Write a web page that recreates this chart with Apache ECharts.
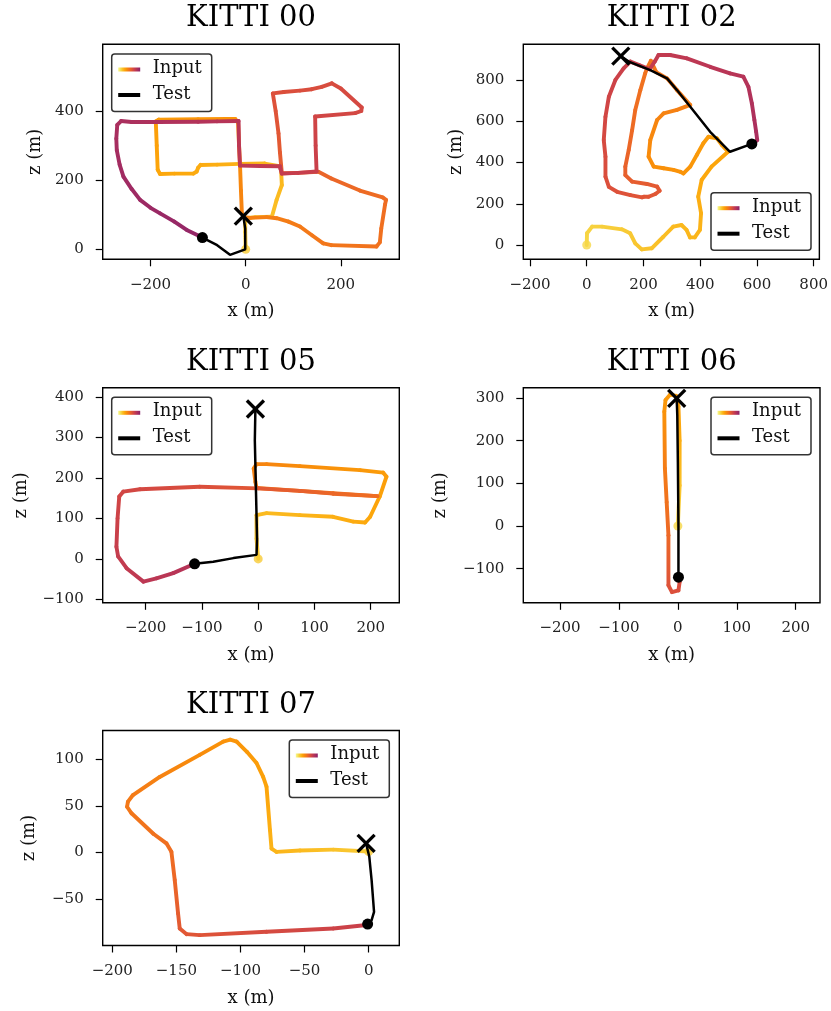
<!DOCTYPE html>
<html><head><meta charset="utf-8">
<script src="https://cdn.jsdelivr.net/npm/echarts@6/dist/echarts.min.js"></script>
<style>html,body{margin:0;padding:0;background:#fff}#c{width:831px;height:1011px}</style>
</head><body><div id="c"></div>
<script>
// ---------------- DATA ----------------
const titles = ['KITTI 00', 'KITTI 02', 'KITTI 05', 'KITTI 06', 'KITTI 07'];

const input00X = [0, -1, -1, 20, 55, 65, 76, 74, 40, -12, -60, -95, -100, -103, -110, -150, -180, -185, -187, -189, -183, -100, -40, -22, -16, -14, -12, -10, -8, -3, 10, 44, 65, 90, 114, 140, 163, 180, 275, 282, 285, 293, 295, 288, 240, 180, 153, 110, 76, 72, 69, 63, 57, 80, 114, 139, 160, 181, 200, 244, 243, 230, 146, 147, 149, 110, 76, 73, 72, 30, -12, -14, -15, -60, -100, -187, -240, -262, -270, -272, -271, -265, -257, -240, -222, -200, -180, -150, -124, -91];
const input00Z = [0, 50, 90, 93, 94, 143, 186, 240, 248, 247, 245, 244, 236, 225, 219, 219, 218, 230, 300, 370, 375, 376, 377, 377, 366, 300, 246, 170, 104, 93, 91, 93, 90, 80, 66, 40, 17, 12, 8, 20, 60, 130, 143, 150, 170, 205, 224, 221, 220, 280, 335, 400, 451, 455, 459, 463, 470, 480, 465, 410, 400, 394, 384, 300, 225, 221, 219, 233, 240, 241, 242, 300, 371, 370, 369, 368, 368, 371, 360, 320, 287, 245, 210, 175, 143, 120, 104, 80, 56, 34];
const test00X = [-91, -60, -33, -1, -1, -5];
const test00Z = [34, 12, -16, 0, 60, 96];

const input02X = [0, 1, 19, 54, 124, 153, 171, 194, 229, 270, 305, 334, 352, 364, 381, 399, 403, 393, 405, 440, 498, 476, 459, 429, 411, 388, 365, 341, 330, 306, 271, 236, 218, 224, 248, 271, 318, 365, 318, 283, 245, 226, 212, 206, 189, 171, 160, 148, 136, 136, 160, 212, 248, 257, 242, 218, 201, 195, 154, 107, 78, 66, 66, 60, 66, 78, 101, 130, 154, 185, 222, 240, 253, 294, 353, 435, 505, 552, 570, 582, 591, 597, 601, 587];
const input02Z = [0, 57, 89, 89, 76, 57, 8, -21, -16, 40, 89, 97, 73, 37, 37, 73, 154, 234, 315, 380, 452, 485, 517, 525, 493, 436, 380, 347, 355, 364, 372, 380, 428, 509, 606, 638, 655, 679, 751, 808, 838, 893, 855, 832, 751, 654, 557, 461, 380, 339, 307, 296, 283, 263, 247, 234, 234, 231, 242, 258, 282, 331, 428, 509, 622, 719, 800, 856, 889, 872, 852, 890, 921, 921, 905, 864, 832, 816, 767, 687, 606, 550, 509, 490];
const test02X = [582, 505, 435, 365, 318, 283, 224, 148, 120];
const test02Z = [490, 452, 549, 670, 751, 808, 848, 889, 916];

const input05X = [0, -3, -3, 15, 74, 133, 169, 190, 199, 216, 228, 222, 181, 74, 15, -3, -8, -5, -3, 74, 133, 212, 133, 74, 0, -104, -210, -240, -247, -250, -252, -249, -234, -204, -181, -151, -113];
const input05Z = [0, 50, 108, 113, 108, 104, 92, 90, 104, 154, 203, 213, 219, 229, 234, 234, 223, 190, 175, 168, 162, 155, 161, 168, 174, 178, 172, 166, 154, 100, 30, 6, -23, -56, -48, -35, -12];
const test05X = [-113, -80, -44, -3, -2, -4, -6, -5];
const test05Z = [-12, -7, 2, 10, 47, 170, 293, 370];

const input06X = [0, 3, 3, 1, -3, -13, -21, -23, -22, -19, -16, -16, -10, 1, 3, 1];
const input06Z = [0, 95, 200, 280, 305, 308, 295, 268, 135, 56, -22, -139, -155, -151, -131, -120];
const test06X = [1, 1, 0, -1, -2];
const test06Z = [-120, 0, 150, 260, 299];

const input07X = [0, -27.6, -53.6, -71.9, -75.8, -77, -79.7, -82.3, -87.5, -95, -103, -108, -113.5, -131.8, -163, -183.9, -187.8, -188.5, -185, -168, -157.8, -153.9, -151.3, -148.7, -147.4, -142, -131.8, -79.7, -27.6, -1.6, -0.8];
const input07Z = [1, 3, 2, 0.5, 4, 24, 70.6, 81, 96, 108, 119, 121, 119, 104.7, 81, 61.6, 54.5, 49, 42, 20, 9.7, 0.7, -29.7, -65.6, -81.7, -87.8, -88.9, -85.3, -81.7, -78, -77];
const test07X = [-0.8, 2.3, 4.2, 2.3, 0.5, -2];
const test07Z = [-77, -72.8, -63.8, -29.7, -4.7, 9.7];

const ticks00X = [-200, 0, 200], ticks00Z = [0, 200, 400];
const ticks02X = [-200, 0, 200, 400, 600, 800], ticks02Z = [0, 200, 400, 600, 800];
const ticks05X = [-200, -100, 0, 100, 200], ticks05Z = [-100, 0, 100, 200, 300, 400];
const ticks06X = [-200, -100, 0, 100, 200], ticks06Z = [-100, 0, 100, 200, 300];
const ticks07X = [-200, -150, -100, -50, 0], ticks07Z = [-50, 0, 50, 100];

const legendLabels = ['Input', 'Test'];
const xName = 'x (m)', zName = 'z (m)';

// ---------------- STYLE / LAYOUT ----------------
const FONT = 'DejaVu Serif';
const INFERNO = [[0.30,'#6a176e'],[0.35,'#781c6d'],[0.40,'#932667'],[0.45,'#a82e5f'],[0.50,'#bc3754'],[0.55,'#cf4446'],[0.60,'#dd513a'],[0.65,'#ed6925'],[0.70,'#f37819'],[0.75,'#f98e09'],[0.80,'#fca50a'],[0.85,'#fbba1f'],[0.90,'#f6d746'],[0.95,'#f1ed71'],[1.00,'#fcffa4']];
function hex(c){return [parseInt(c.substr(1,2),16),parseInt(c.substr(3,2),16),parseInt(c.substr(5,2),16)];}
function cmap(v){
  v = Math.max(INFERNO[0][0], Math.min(1, v));
  for (let i = 0; i < INFERNO.length - 1; i++) {
    const a = INFERNO[i], b = INFERNO[i+1];
    if (v <= b[0]) {
      const f = (v - a[0]) / (b[0] - a[0]);
      const ca = hex(a[1]), cb = hex(b[1]);
      return 'rgb(' + ca.map((q,k)=>Math.round(q + (cb[k]-q)*f)).join(',') + ')';
    }
  }
  return INFERNO[INFERNO.length-1][1];
}

const panels = [
  {ix:input00X, iz:input00Z, tx:test00X, tz:test00Z, xt:ticks00X, yt:ticks00Z,
   grid:{left:102.7, top:44.3, width:296.6, height:215}, xr:[-300.6, 322.9], yr:[-28.9, 592.9], cm:[0.88, 0.4], leg:[111.7, 54], zlab:35},
  {ix:input02X, iz:input02Z, tx:test02X, tz:test02Z, xt:ticks02X, yt:ticks02Z,
   grid:{left:523.3, top:44.3, width:296.7, height:215}, xr:[-223.6, 820], yr:[-69.3, 973], cm:[0.9, 0.45], leg:[711, 192.7], zlab:456},
  {ix:input05X, iz:input05Z, tx:test05X, tz:test05Z, xt:ticks05X, yt:ticks05Z,
   grid:{left:102.7, top:387.8, width:296.6, height:215}, xr:[-276.4, 250.8], yr:[-108.3, 422.3], cm:[0.88, 0.48], leg:[111.7, 397.3], zlab:21.5},
  {ix:input06X, iz:input06Z, tx:test06X, tz:test06Z, xt:ticks06X, yt:ticks06Z,
   grid:{left:523.3, top:387.8, width:296.7, height:215}, xr:[-262.3, 241.2], yr:[-180, 323.8], cm:[0.9, 0.58], leg:[711, 397.3], zlab:440},
  {ix:input07X, iz:input07Z, tx:test07X, tz:test07Z, xt:ticks07X, yt:ticks07Z,
   grid:{left:102.7, top:730.5, width:296.6, height:215}, xr:[-207.5, 23.9], yr:[-100, 130.9], cm:[0.88, 0.53], leg:[289.3, 740], zlab:29}
];

function fmt(v){ return v < 0 ? '\u2212' + Math.abs(v) : String(v); }

function renderSeg(params, api){
  const p1 = api.coord([api.value(0), api.value(1)]);
  const p2 = api.coord([api.value(2), api.value(3)]);
  const c1 = cmap(api.value(4)), c2 = cmap(api.value(5));
  let stroke = c1;
  if (Math.abs(p1[0]-p2[0]) + Math.abs(p1[1]-p2[1]) > 0.01) {
    stroke = new echarts.graphic.LinearGradient(p1[0], p1[1], p2[0], p2[1], [{offset:0,color:c1},{offset:1,color:c2}], true);
  }
  return {type:'line', shape:{x1:p1[0], y1:p1[1], x2:p2[0], y2:p2[1]},
          style:{stroke: stroke, lineWidth:3.9, lineCap:'round', fill:null}};
}
function renderX(params, api){
  const p = api.coord([api.value(0), api.value(1)]);
  const h = 8.5;
  return {type:'group', children:[
    {type:'line', shape:{x1:p[0]-h, y1:p[1]-h, x2:p[0]+h, y2:p[1]+h}, style:{stroke:'#000', lineWidth:3.3}},
    {type:'line', shape:{x1:p[0]-h, y1:p[1]+h, x2:p[0]+h, y2:p[1]-h}, style:{stroke:'#000', lineWidth:3.3}}
  ]};
}

const grid = [], xAxis = [], yAxis = [], series = [], graphic = [];
panels.forEach((p, i) => {
  grid.push(Object.assign({show:true, borderColor:'#000', borderWidth:1.4, backgroundColor:'rgba(0,0,0,0)'}, p.grid));
  const common = {
    gridIndex:i, type:'value', scale:true,
    axisLine:{show:false, onZero:false},
    axisTick:{show:true, length:7, lineStyle:{color:'#000', width:1.2}},
    splitLine:{show:false},
    axisLabel:{formatter:fmt, fontFamily:FONT, fontSize:15, color:'#222'}
  };
  xAxis.push(echarts.util.merge({min:p.xr[0], max:p.xr[1], position:'bottom',
    axisTick:{customValues:p.xt}, axisLabel:{customValues:p.xt, margin:18}}, common));
  yAxis.push(echarts.util.merge({min:p.yr[0], max:p.yr[1], position:'left',
    axisTick:{customValues:p.yt}, axisLabel:{customValues:p.yt, margin:19}}, common));

  // arc-length parameter for colouring
  const n = p.ix.length, cum = [0];
  for (let k = 1; k < n; k++) cum.push(cum[k-1] + Math.hypot(p.ix[k]-p.ix[k-1], p.iz[k]-p.iz[k-1]));
  const tot = cum[n-1];
  const v = cum.map(c => p.cm[0] + (p.cm[1]-p.cm[0]) * c / tot);
  const segs = [];
  for (let k = 0; k < n-1; k++) segs.push([p.ix[k], p.iz[k], p.ix[k+1], p.iz[k+1], v[k], v[k+1]]);

  series.push({type:'custom', coordinateSystem:'cartesian2d', xAxisIndex:i, yAxisIndex:i, data:segs, renderItem:renderSeg, silent:true, z:2, animation:false});
  series.push({type:'scatter', xAxisIndex:i, yAxisIndex:i, data:[[p.ix[0], p.iz[0]]], symbolSize:9, itemStyle:{color:cmap(p.cm[0])}, silent:true, z:3});
  series.push({type:'line', xAxisIndex:i, yAxisIndex:i, data:p.tx.map((x,k)=>[x, p.tz[k]]), showSymbol:false, symbol:'none', lineStyle:{color:'#000', width:2.5}, silent:true, z:4});
  series.push({type:'scatter', xAxisIndex:i, yAxisIndex:i, data:[[p.tx[0], p.tz[0]]], symbolSize:11, itemStyle:{color:'#000', opacity:1}, silent:true, z:5});
  series.push({type:'custom', coordinateSystem:'cartesian2d', xAxisIndex:i, yAxisIndex:i, data:[[p.tx[p.tx.length-1], p.tz[p.tz.length-1]]], renderItem:renderX, silent:true, z:6});

  const g = p.grid, cx = g.left + g.width/2;
  graphic.push({type:'text', x:cx, y:g.top - 25.5, style:{text:titles[i], font:'29px "'+FONT+'"', fill:'#000', align:'center', verticalAlign:'middle'}, z:100});
  graphic.push({type:'text', x:cx, y:g.top + g.height + 52.5, style:{text:xName, font:'18px "'+FONT+'"', fill:'#111', align:'center', verticalAlign:'middle'}, z:100});
  graphic.push({type:'text', x:p.zlab, y:g.top + g.height/2, rotation:Math.PI/2, style:{text:zName, font:'18px "'+FONT+'"', fill:'#111', align:'center', verticalAlign:'middle'}, z:100});

  // legend
  const L = p.leg;
  const gradStops = [];
  for (let s = 0; s <= 10; s++) gradStops.push({offset:s/10, color:cmap(0.98 - 0.6*s/10)});
  graphic.push({type:'rect', shape:{x:L[0], y:L[1], width:100, height:57.5, r:3}, style:{fill:'#fff', stroke:'#333', lineWidth:1.5}, z:100});
  graphic.push({type:'rect', shape:{x:L[0]+6.5, y:L[1]+13.5, width:22, height:4}, style:{fill:new echarts.graphic.LinearGradient(0,0,1,0,gradStops)}, z:101});
  graphic.push({type:'rect', shape:{x:L[0]+6.5, y:L[1]+39, width:22, height:4}, style:{fill:'#000'}, z:101});
  graphic.push({type:'text', x:L[0]+41, y:L[1]+14.5, style:{text:legendLabels[0], font:'18px "'+FONT+'"', fill:'#111', align:'left', verticalAlign:'middle'}, z:101});
  graphic.push({type:'text', x:L[0]+41, y:L[1]+40.5, style:{text:legendLabels[1], font:'18px "'+FONT+'"', fill:'#111', align:'left', verticalAlign:'middle'}, z:101});
});

const chart = echarts.init(document.getElementById('c'), null, {renderer:'canvas', width:831, height:1011});
chart.setOption({animation:false, backgroundColor:'#fff', grid, xAxis, yAxis, series, graphic});
</script>
</body></html>
